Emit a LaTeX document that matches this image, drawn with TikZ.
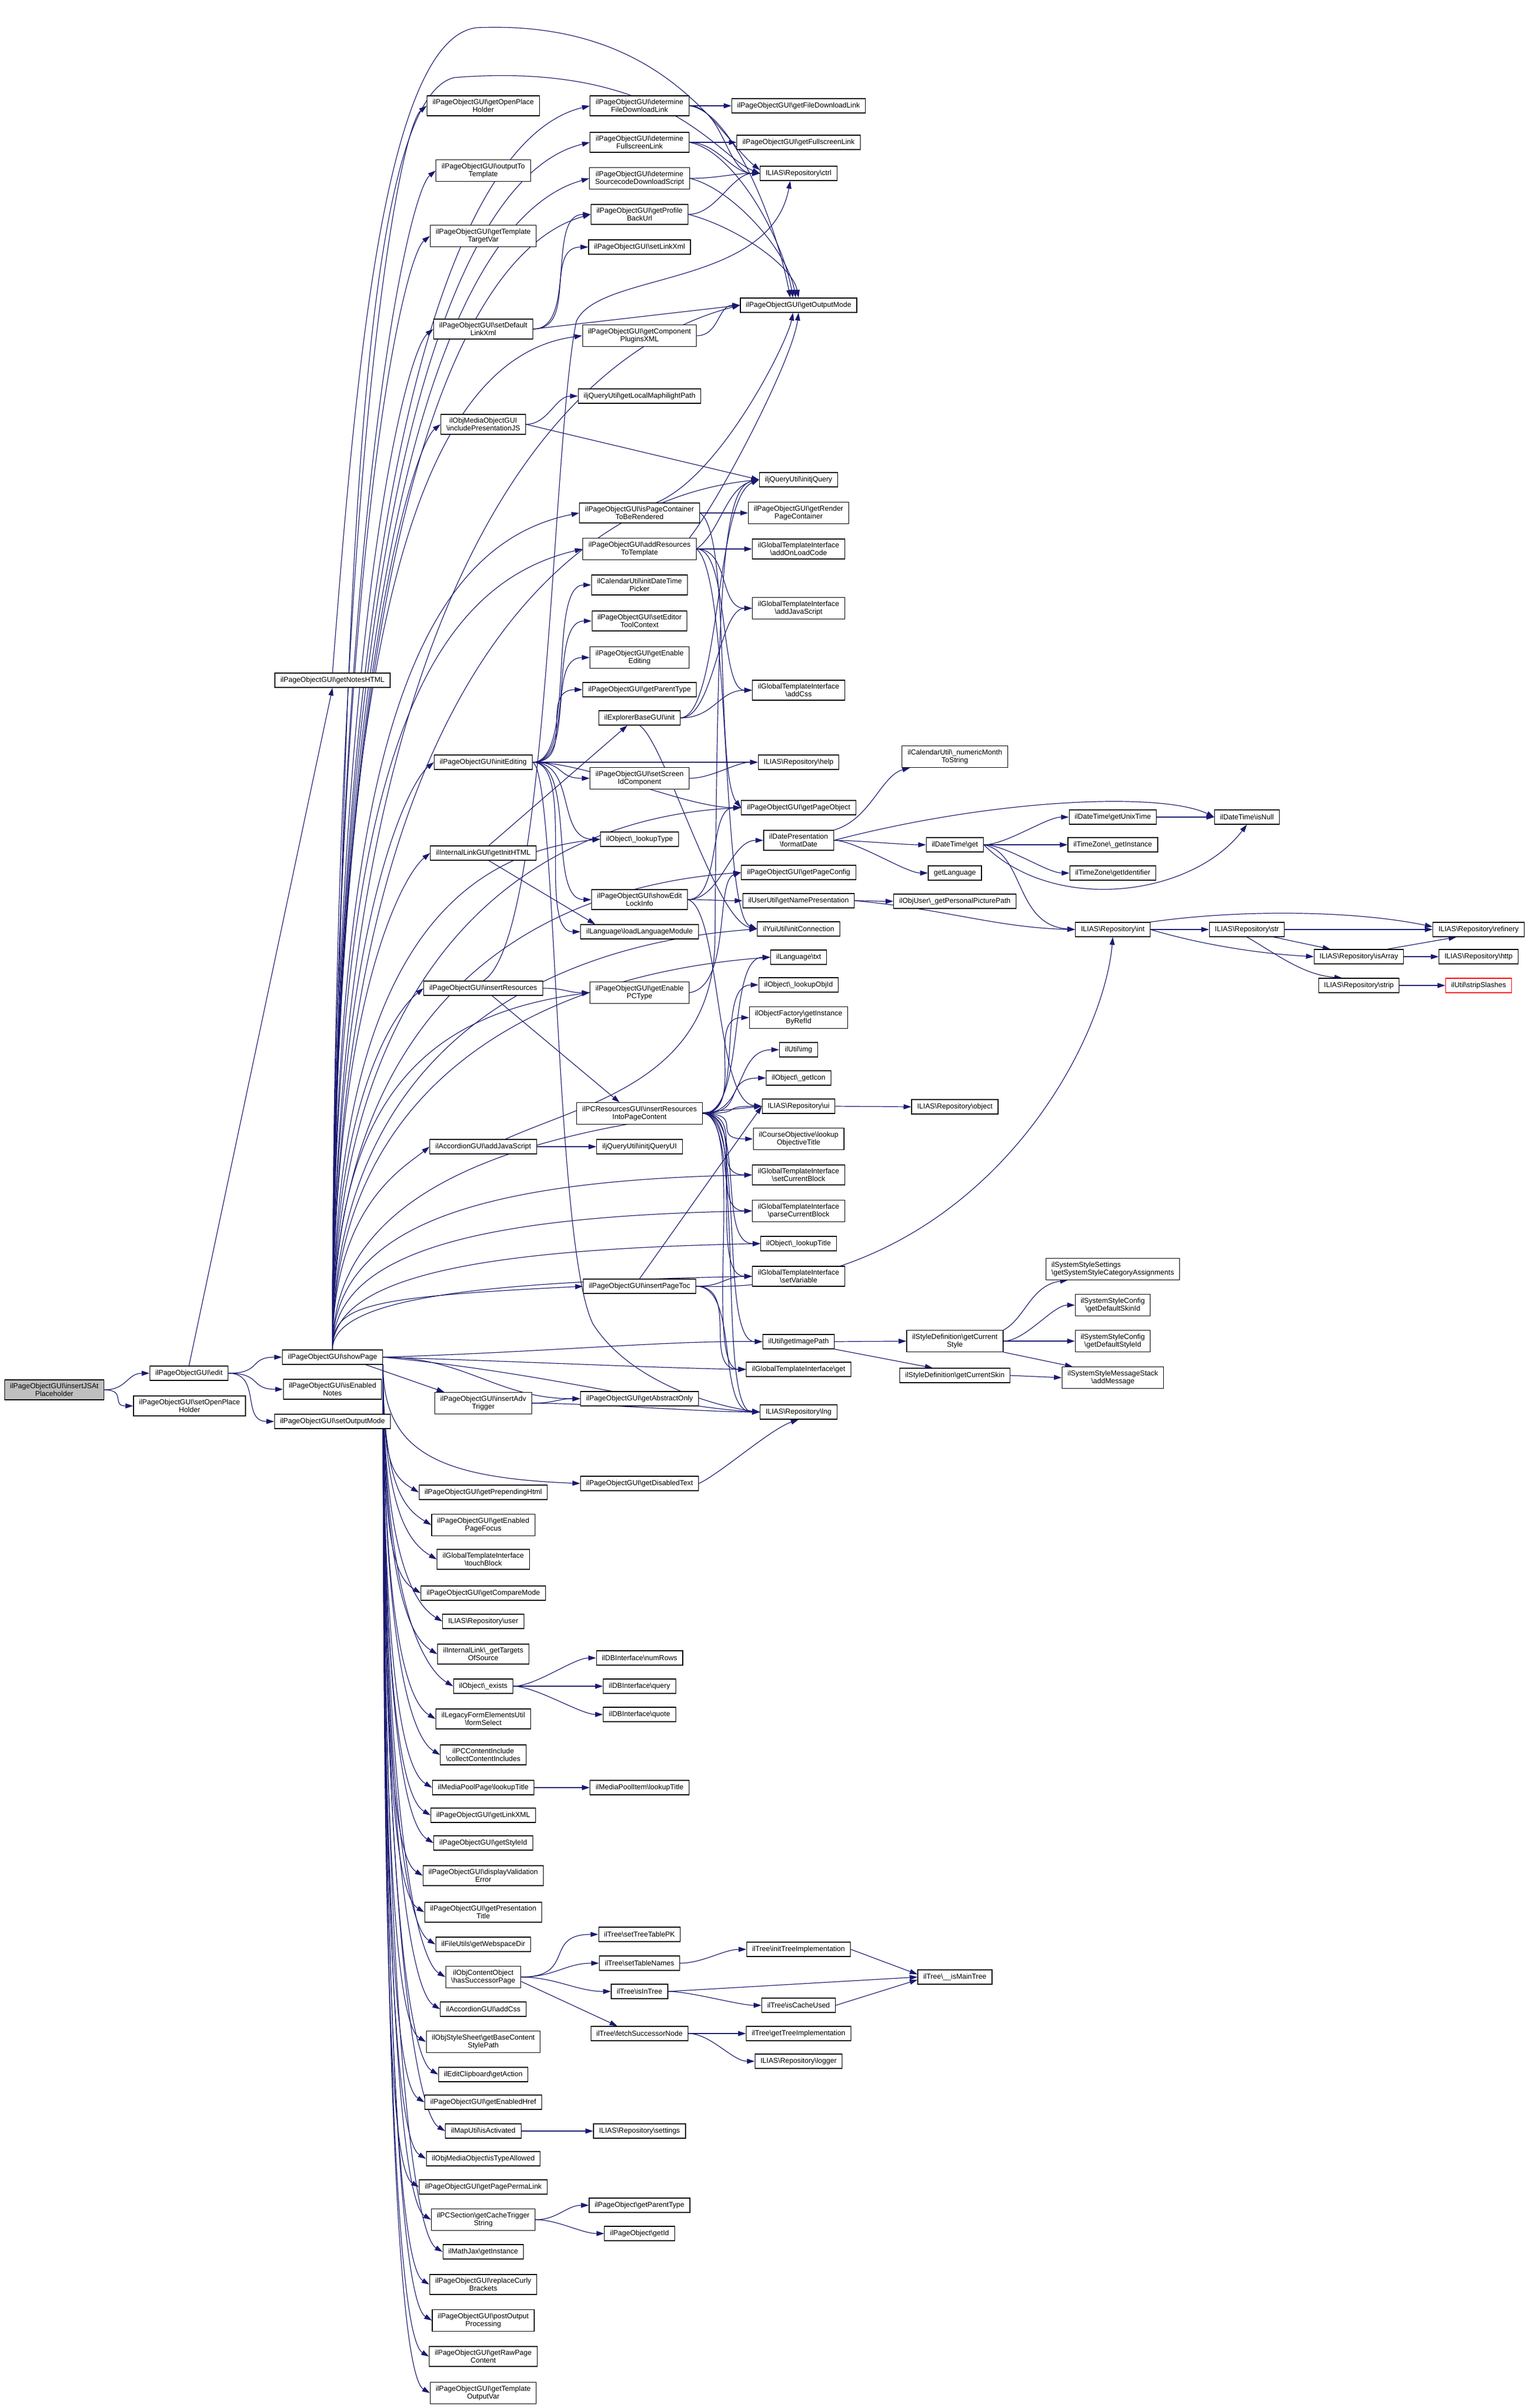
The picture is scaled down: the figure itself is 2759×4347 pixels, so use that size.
\documentclass[tikz,border=0pt]{standalone}
\usepackage{fontspec}
\setmainfont{Liberation Sans}
\usetikzlibrary{arrows.meta,calc,backgrounds}
\definecolor{edgeblue}{HTML}{191970}
\definecolor{rootgray}{HTML}{BFBFBF}
\newcommand{\bks}{\textbackslash}
\tikzset{
  fnbox/.style={draw=black, line width=1.2pt, fill=white, align=center,
    font=\fontsize{13}{14.5}\selectfont, inner xsep=10pt, inner ysep=6pt, minimum height=26pt},
  rootbox/.style={fnbox, fill=rootgray},
  callarrow/.style={draw=edgeblue, line width=1.2pt, -{Triangle[length=14pt,width=9pt]}},
}
\newcommand{\fwd}[3][50]{\draw[callarrow] (#2.east) .. controls +(#1,0) and +(-#1,0) .. (#3.west);}
\newcommand{\spup}[3]{\draw[callarrow] (sp.north) .. controls ($(sp.north)!0.7!(sp.north |- #1.west)$) and ($(#1.west)+(-#2,#3)$) .. (#1.west);}
\newcommand{\spdn}[3]{\draw[callarrow] (sp.south east) .. controls ($(sp.south east)!0.75!(sp.south east |- #1.west)$) and ($(#1.west)+(-#2,#3)$) .. (#1.west);}

\begin{document}
\begin{tikzpicture}[x=1pt,y=-1pt]
\useasboundingbox (0,0) rectangle (2759,4347);

% callers
\node[rootbox] (ins) at (98,2509) {ilPageObjectGUI\bks insertJSAt\\Placeholder};
\node[fnbox] (edit) at (341,2479) {ilPageObjectGUI\bks edit};
\node[fnbox] (soph) at (342,2538) {ilPageObjectGUI\bks setOpenPlace\\Holder};
\node[fnbox] (notes) at (600,1228) {ilPageObjectGUI\bks getNotesHTML};
\node[fnbox] (sp) at (600,2450) {ilPageObjectGUI\bks showPage};
\node[fnbox] (ien) at (600,2508) {ilPageObjectGUI\bks isEnabled\\Notes};
\node[fnbox] (som) at (600,2566) {ilPageObjectGUI\bks setOutputMode};

% column 4
\node[fnbox] (gop) at (872,191) {ilPageObjectGUI\bks getOpenPlace\\Holder};
\node[fnbox] (ott) at (872,308) {ilPageObjectGUI\bks outputTo\\Template};
\node[fnbox] (gttv) at (872,426) {ilPageObjectGUI\bks getTemplate\\TargetVar};
\node[fnbox] (sdlx) at (872,594) {ilPageObjectGUI\bks setDefault\\LinkXml};
\node[fnbox] (ipjs) at (872,766) {ilObjMediaObjectGUI\\\bks includePresentationJS};
\node[fnbox] (ie) at (872,1376) {ilPageObjectGUI\bks initEditing};
\node[fnbox] (gih) at (872,1540) {ilInternalLinkGUI\bks getInitHTML};
\node[fnbox] (irs) at (872,1784) {ilPageObjectGUI\bks insertResources};
\node[fnbox] (acjs) at (872,2070) {ilAccordionGUI\bks addJavaScript};
\node[fnbox] (iat) at (872,2533) {ilPageObjectGUI\bks insertAdv\\Trigger};
\node[fnbox] (gph) at (872,2694) {ilPageObjectGUI\bks getPrependingHtml};
\node[fnbox] (gepf) at (872,2753) {ilPageObjectGUI\bks getEnabled\\PageFocus};
\node[fnbox] (tb) at (872,2815) {ilGlobalTemplateInterface\\\bks touchBlock};
\node[fnbox] (gcm) at (872,2876) {ilPageObjectGUI\bks getCompareMode};
\node[fnbox] (user) at (872,2927) {ILIAS\bks Repository\bks user};
\node[fnbox] (gtos) at (872,2986) {ilInternalLink\bks\_getTargets\\OfSource};
\node[fnbox] (exists) at (872,3044) {ilObject\bks\_exists};
\node[fnbox] (fsel) at (872,3103) {ilLegacyFormElementsUtil\\\bks formSelect};
\node[fnbox] (cci) at (872,3168) {ilPCContentInclude\\\bks collectContentIncludes};
\node[fnbox] (mppl) at (872,3227) {ilMediaPoolPage\bks lookupTitle};
\node[fnbox] (glx) at (872,3277) {ilPageObjectGUI\bks getLinkXML};
\node[fnbox] (gsi) at (872,3327) {ilPageObjectGUI\bks getStyleId};
\node[fnbox] (dve) at (872,3386) {ilPageObjectGUI\bks displayValidation\\Error};
\node[fnbox] (gpt) at (872,3452) {ilPageObjectGUI\bks getPresentation\\Title};
\node[fnbox] (gwd) at (872,3510) {ilFileUtils\bks getWebspaceDir};
\node[fnbox] (hsp) at (872,3569) {ilObjContentObject\\\bks hasSuccessorPage};
\node[fnbox] (accss) at (872,3627) {ilAccordionGUI\bks addCss};
\node[fnbox] (gbcs) at (872,3686) {ilObjStyleSheet\bks getBaseContent\\StylePath};
\node[fnbox] (gact) at (872,3745) {ilEditClipboard\bks getAction};
\node[fnbox] (geh) at (872,3795) {ilPageObjectGUI\bks getEnabledHref};
\node[fnbox] (mua) at (872,3847) {ilMapUtil\bks isActivated};
\node[fnbox] (ita) at (872,3897) {ilObjMediaObject\bks isTypeAllowed};
\node[fnbox] (gppl) at (872,3948) {ilPageObjectGUI\bks getPagePermaLink};
\node[fnbox] (gcts) at (872,4007) {ilPCSection\bks getCacheTrigger\\String};
\node[fnbox] (mjx) at (872,4065) {ilMathJax\bks getInstance};
\node[fnbox] (rcb) at (872,4124) {ilPageObjectGUI\bks replaceCurly\\Brackets};
\node[fnbox] (pop) at (872,4189) {ilPageObjectGUI\bks postOutput\\Processing};
\node[fnbox] (grpc2) at (872,4254) {ilPageObjectGUI\bks getRawPage\\Content};
\node[fnbox] (gtov) at (872,4320) {ilPageObjectGUI\bks getTemplate\\OutputVar};

% column 5
\node[fnbox] (dfdl) at (1154,191) {ilPageObjectGUI\bks determine\\FileDownloadLink};
\node[fnbox] (dfsl) at (1154,257) {ilPageObjectGUI\bks determine\\FullscreenLink};
\node[fnbox] (dsds) at (1154,322) {ilPageObjectGUI\bks determine\\SourcecodeDownloadScript};
\node[fnbox] (gpbu) at (1154,387) {ilPageObjectGUI\bks getProfile\\BackUrl};
\node[fnbox] (slx) at (1154,446) {ilPageObjectGUI\bks setLinkXml};
\node[fnbox] (gcpx) at (1154,606) {ilPageObjectGUI\bks getComponent\\PluginsXML};
\node[fnbox] (lmp) at (1154,715) {iljQueryUtil\bks getLocalMaphilightPath};
\node[fnbox] (ipcr) at (1154,926) {ilPageObjectGUI\bks isPageContainer\\ToBeRendered};
\node[fnbox] (art) at (1154,991) {ilPageObjectGUI\bks addResources\\ToTemplate};
\node[fnbox] (idtp) at (1154,1056) {ilCalendarUtil\bks initDateTime\\Picker};
\node[fnbox] (setc) at (1154,1121) {ilPageObjectGUI\bks setEditor\\ToolContext};
\node[fnbox] (gee) at (1154,1187) {ilPageObjectGUI\bks getEnable\\Editing};
\node[fnbox] (gpty) at (1154,1245) {ilPageObjectGUI\bks getParentType};
\node[fnbox] (ebi) at (1154,1296) {ilExplorerBaseGUI\bks init};
\node[fnbox] (ssic) at (1154,1405) {ilPageObjectGUI\bks setScreen\\IdComponent};
\node[fnbox] (lty) at (1154,1515) {ilObject\bks\_lookupType};
\node[fnbox] (seli) at (1154,1624) {ilPageObjectGUI\bks showEdit\\LockInfo};
\node[fnbox] (llm) at (1154,1682) {ilLanguage\bks loadLanguageModule};
\node[fnbox] (gepc) at (1154,1792) {ilPageObjectGUI\bks getEnable\\PCType};
\node[fnbox] (irpc) at (1154,2010) {ilPCResourcesGUI\bks insertResources\\IntoPageContent};
\node[fnbox] (ijqui) at (1154,2070) {iljQueryUtil\bks initjQueryUI};
\node[fnbox] (ipt) at (1154,2322) {ilPageObjectGUI\bks insertPageToc};
\node[fnbox] (gao) at (1154,2525) {ilPageObjectGUI\bks getAbstractOnly};
\node[fnbox] (gdt) at (1154,2678) {ilPageObjectGUI\bks getDisabledText};
\node[fnbox] (numrows) at (1154,2993) {ilDBInterface\bks numRows};
\node[fnbox] (query) at (1154,3044) {ilDBInterface\bks query};
\node[fnbox] (quote) at (1154,3095) {ilDBInterface\bks quote};
\node[fnbox] (mpil) at (1154,3227) {ilMediaPoolItem\bks lookupTitle};
\node[fnbox] (sttpk) at (1154,3492) {ilTree\bks setTreeTablePK};
\node[fnbox] (stn) at (1154,3544) {ilTree\bks setTableNames};
\node[fnbox] (iit) at (1154,3595) {ilTree\bks isInTree};
\node[fnbox] (fsn) at (1154,3671) {ilTree\bks fetchSuccessorNode};
\node[fnbox] (sett) at (1154,3847) {ILIAS\bks Repository\bks settings};
\node[fnbox] (popt) at (1154,3981) {ilPageObject\bks getParentType};
\node[fnbox] (pogid) at (1154,4032) {ilPageObject\bks getId};

% column 6
\node[fnbox] (gfdl) at (1441,191) {ilPageObjectGUI\bks getFileDownloadLink};
\node[fnbox] (gfsl) at (1441,257) {ilPageObjectGUI\bks getFullscreenLink};
\node[fnbox] (ctrl) at (1441,313) {ILIAS\bks Repository\bks ctrl};
\node[fnbox] (gom) at (1441,551) {ilPageObjectGUI\bks getOutputMode};
\node[fnbox] (ijq) at (1441,866) {iljQueryUtil\bks initjQuery};
\node[fnbox] (grpc) at (1441,926) {ilPageObjectGUI\bks getRender\\PageContainer};
\node[fnbox] (aolc) at (1441,991) {ilGlobalTemplateInterface\\\bks addOnLoadCode};
\node[fnbox] (ajs) at (1441,1098) {ilGlobalTemplateInterface\\\bks addJavaScript};
\node[fnbox] (acss) at (1441,1246) {ilGlobalTemplateInterface\\\bks addCss};
\node[fnbox] (help) at (1441,1376) {ILIAS\bks Repository\bks help};
\node[fnbox] (gpo) at (1441,1458) {ilPageObjectGUI\bks getPageObject};
\node[fnbox] (fd) at (1441,1517) {ilDatePresentation\\\bks formatDate};
\node[fnbox] (gpcf) at (1441,1575) {ilPageObjectGUI\bks getPageConfig};
\node[fnbox] (gnp) at (1441,1626) {ilUserUtil\bks getNamePresentation};
\node[fnbox] (yui) at (1441,1677) {ilYuiUtil\bks initConnection};
\node[fnbox] (txt) at (1441,1728) {ilLanguage\bks txt};
\node[fnbox] (loid) at (1441,1778) {ilObject\bks\_lookupObjId};
\node[fnbox] (gibr) at (1441,1837) {ilObjectFactory\bks getInstance\\ByRefId};
\node[fnbox] (img) at (1441,1895) {ilUtil\bks img};
\node[fnbox] (gico) at (1441,1946) {ilObject\bks\_getIcon};
\node[fnbox] (ui) at (1441,1997) {ILIAS\bks Repository\bks ui};
\node[fnbox] (lot) at (1441,2056) {ilCourseObjective\bks lookup\\ObjectiveTitle};
\node[fnbox] (scb) at (1441,2121) {ilGlobalTemplateInterface\\\bks setCurrentBlock};
\node[fnbox] (pcb) at (1441,2186) {ilGlobalTemplateInterface\\\bks parseCurrentBlock};
\node[fnbox] (ltit) at (1441,2245) {ilObject\bks\_lookupTitle};
\node[fnbox] (svar) at (1441,2304) {ilGlobalTemplateInterface\\\bks setVariable};
\node[fnbox] (gip) at (1441,2422) {ilUtil\bks getImagePath};
\node[fnbox] (tget) at (1441,2472) {ilGlobalTemplateInterface\bks get};
\node[fnbox] (lng) at (1441,2549) {ILIAS\bks Repository\bks lng};
\node[fnbox] (iti) at (1441,3519) {ilTree\bks initTreeImplementation};
\node[fnbox] (icu) at (1441,3620) {ilTree\bks isCacheUsed};
\node[fnbox] (gti) at (1441,3671) {ilTree\bks getTreeImplementation};
\node[fnbox] (logger) at (1441,3721) {ILIAS\bks Repository\bks logger};

% column 7 and further
\node[fnbox] (nmts) at (1723,1366) {ilCalendarUtil\bks\_numericMonth\\ToString};
\node[fnbox] (dtg) at (1723,1525) {ilDateTime\bks get};
\node[fnbox] (glang) at (1723,1576) {getLanguage};
\node[fnbox] (gppp) at (1723,1627) {ilObjUser\bks\_getPersonalPicturePath};
\node[fnbox] (obj) at (1723,1998) {ILIAS\bks Repository\bks object};
\node[fnbox] (gcs) at (1723,2421) {ilStyleDefinition\bks getCurrent\\Style};
\node[fnbox] (gcsk) at (1723,2483) {ilStyleDefinition\bks getCurrentSkin};
\node[fnbox] (imt) at (1723,3569) {ilTree\bks\_\_isMainTree};

\node[fnbox] (gut) at (2008,1475) {ilDateTime\bks getUnixTime};
\node[fnbox] (tzi) at (2008,1525) {ilTimeZone\bks\_getInstance};
\node[fnbox] (tzid) at (2008,1576) {ilTimeZone\bks getIdentifier};
\node[fnbox] (int) at (2008,1678) {ILIAS\bks Repository\bks int};
\node[fnbox, align=left] (ssca) at (2008,2291) {ilSystemStyleSettings\\\bks getSystemStyleCategoryAssignments};
\node[fnbox] (dsk) at (2008,2356) {ilSystemStyleConfig\\\bks getDefaultSkinId};
\node[fnbox] (dst) at (2008,2421) {ilSystemStyleConfig\\\bks getDefaultStyleId};
\node[fnbox] (amsg) at (2008,2487) {ilSystemStyleMessageStack\\\bks addMessage};

\node[fnbox] (isnull) at (2250,1475) {ilDateTime\bks isNull};
\node[fnbox] (str) at (2250,1678) {ILIAS\bks Repository\bks str};
\node[fnbox] (isarr) at (2452,1727) {ILIAS\bks Repository\bks isArray};
\node[fnbox] (strip) at (2452,1779) {ILIAS\bks Repository\bks strip};
\node[fnbox] (refi) at (2668,1678) {ILIAS\bks Repository\bks refinery};
\node[fnbox] (http) at (2668,1727) {ILIAS\bks Repository\bks http};
\node[fnbox, draw=red] (strsl) at (2668,1779) {ilUtil\bks stripSlashes};

\begin{scope}[on background layer]
\fill[white] (0,0) rectangle (2759,4347);

% root calls
\fwd[40]{ins}{edit}
\fwd[40]{ins}{soph}
\draw[callarrow] (edit.north) -- (notes.south);
\fwd[60]{edit}{sp}
\fwd[60]{edit}{ien}
\fwd[60]{edit}{som}
\draw[callarrow] (notes.north) .. controls (640,700) and (690,70) .. (860,50) .. controls (1200,35) and (1300,250) .. ([yshift=6pt]ctrl.west);
\draw[callarrow] (sp.north) .. controls (620,1200) and (640,180) .. (820,140) .. controls (1200,110) and (1290,280) .. (ctrl.west);

% showPage, upwards
\spup{gop}{50}{40}
\spup{ott}{50}{40}
\spup{gttv}{50}{40}
\spup{sdlx}{50}{40}
\spup{ipjs}{50}{40}
\spup{ie}{50}{40}
\spup{gih}{50}{40}
\spup{irs}{50}{40}
\spup{acjs}{50}{40}
\spup{dfdl}{250}{60}
\spup{dfsl}{250}{60}
\spup{dsds}{250}{70}
\spup{gpbu}{250}{70}
\spup{gcpx}{300}{40}
\spup{gom}{350}{90}
\spup{ijq}{400}{40}
\spup{ipcr}{300}{60}
\spup{art}{300}{70}
\spup{lty}{300}{30}
\spup{gpo}{400}{20}
\spup{gpcf}{400}{30}
\spup{yui}{400}{30}
\spup{txt}{400}{30}
\spup{gepc}{300}{40}
\spup{ui}{400}{40}
\spup{scb}{500}{10}
\spup{pcb}{500}{10}
\spup{ltit}{500}{10}
\spup{svar}{500}{10}
\spup{ipt}{400}{20}

% showPage, sideways
\draw[callarrow] (sp.east) .. controls (1000,2440) and (1200,2420) .. (gip.west);
\draw[callarrow] (sp.east) .. controls (1000,2460) and (1200,2470) .. (tget.west);
\draw[callarrow] (sp.east) .. controls (1000,2480) and (1200,2540) .. (lng.west);
\fwd[150]{sp}{gao}
\draw[callarrow] ([xshift=60pt]sp.south) -- ([xshift=-70pt]iat.north);

% showPage, downwards
\spdn{gdt}{250}{-10}
\spdn{gph}{50}{-30}
\spdn{gepf}{50}{-30}
\spdn{tb}{50}{-30}
\spdn{gcm}{50}{-30}
\spdn{user}{50}{-30}
\spdn{gtos}{50}{-30}
\spdn{exists}{50}{-30}
\spdn{fsel}{50}{-30}
\spdn{cci}{50}{-30}
\spdn{mppl}{50}{-30}
\spdn{glx}{50}{-30}
\spdn{gsi}{50}{-30}
\spdn{dve}{50}{-30}
\spdn{gpt}{50}{-30}
\spdn{gwd}{50}{-30}
\spdn{hsp}{50}{-30}
\spdn{accss}{50}{-30}
\spdn{gbcs}{50}{-30}
\spdn{gact}{50}{-30}
\spdn{geh}{50}{-30}
\spdn{mua}{50}{-30}
\spdn{ita}{50}{-30}
\spdn{gppl}{50}{-30}
\spdn{gcts}{50}{-30}
\spdn{mjx}{50}{-30}
\spdn{rcb}{50}{-30}
\spdn{pop}{50}{-30}
\spdn{grpc2}{50}{-30}
\spdn{gtov}{50}{-30}

% column 4 calls
\fwd[80]{sdlx}{gpbu}
\fwd[80]{sdlx}{slx}
\draw[callarrow] (sdlx.east) -- (gom.west);
\fwd[40]{ipjs}{lmp}
\draw[callarrow] (ipjs.east) -- (ijq.west);
\fwd[80]{ie}{idtp}
\fwd[80]{ie}{setc}
\fwd[80]{ie}{gee}
\fwd[80]{ie}{gpty}
\fwd[60]{ie}{ssic}
\draw[callarrow] (ie.east) -- (help.west);
\fwd[100]{ie}{gpo}
\fwd[80]{ie}{lty}
\fwd[80]{ie}{seli}
\fwd[80]{ie}{llm}
\draw[callarrow] (ie.east) .. controls (1005,1390) and (1000,2250) .. (1070,2390) .. controls (1140,2500) and (1300,2540) .. (lng.west);
\draw[callarrow] ([xshift=10pt]gih.north) -- ([xshift=-22pt]ebi.south);
\draw[callarrow] ([xshift=10pt]gih.south) -- ([xshift=-80pt]llm.north);
\fwd[40]{irs}{gepc}
\draw[callarrow] ([xshift=16pt]irs.south) -- ([xshift=-36pt]irpc.north);
\draw[callarrow] (irs.north) .. controls (990,1700) and (995,800) .. (1040,580) .. controls (1080,490) and (1390,520) .. ([xshift=-15pt]ctrl.south);
\fwd[40]{acjs}{ijqui}
\draw[callarrow] ([xshift=40pt]acjs.north) .. controls (1060,1990) and (1285,1950) .. (1290,1700) .. controls (1295,1100) and (1300,880) .. (ijq.west);
\fwd[40]{iat}{gao}
\fwd[100]{iat}{lng}
\fwd[40]{exists}{numrows}
\fwd[40]{exists}{query}
\fwd[40]{exists}{quote}
\draw[callarrow] (mppl.east) -- (mpil.west);
\fwd[100]{hsp}{sttpk}
\fwd[60]{hsp}{stn}
\fwd[60]{hsp}{iit}
\draw[callarrow] ([yshift=-8pt]hsp.east) -- ([xshift=-40pt]fsn.north);
\draw[callarrow] (mua.east) -- (sett.west);
\fwd[40]{gcts}{popt}
\fwd[40]{gcts}{pogid}

% column 5 calls
\fwd[40]{dfdl}{gfdl}
\fwd[60]{dfdl}{ctrl}
\draw[callarrow] (dfdl.east) .. controls (1320,200) and (1400,400) .. ([xshift=-15pt]gom.north);
\fwd[40]{dfsl}{gfsl}
\fwd[50]{dfsl}{ctrl}
\draw[callarrow] (dfsl.east) .. controls (1320,270) and (1410,420) .. ([xshift=-10pt]gom.north);
\fwd[50]{dsds}{ctrl}
\draw[callarrow] (dsds.east) .. controls (1320,340) and (1420,450) .. ([xshift=-5pt]gom.north);
\fwd[50]{gpbu}{ctrl}
\draw[callarrow] (gpbu.east) .. controls (1330,410) and (1430,480) .. (gom.north);
\fwd[40]{gcpx}{gom}
\fwd[40]{ipcr}{grpc}
\draw[callarrow] ([xshift=30pt]ipcr.north) .. controls (1300,860) and (1420,620) .. ([xshift=-10pt]gom.south);
\draw[callarrow] (ipcr.east) .. controls (1320,960) and (1290,1400) .. (gpo.west);
\fwd[40]{art}{aolc}
\fwd[60]{art}{ajs}
\fwd[60]{art}{acss}
\draw[callarrow] (art.east) .. controls (1300,960) and (1310,880) .. (ijq.west);
\draw[callarrow] ([xshift=90pt]art.north) .. controls (1300,900) and (1430,650) .. (gom.south);
\draw[callarrow] (art.east) .. controls (1320,1040) and (1300,1650) .. (yui.west);
\draw[callarrow] (ebi.east) .. controls (1300,1290) and (1290,900) .. (ijq.west);
\fwd[60]{ebi}{ajs}
\fwd[60]{ebi}{acss}
\draw[callarrow] (ebi.south) .. controls (1200,1340) and (1290,1660) .. (yui.west);
\fwd[40]{ssic}{help}
\fwd[40]{seli}{gnp}
\fwd[60]{seli}{fd}
\fwd[60]{seli}{gpo}
\draw[callarrow] (seli.east) .. controls (1300,1640) and (1290,1990) .. (ui.west);
\draw[callarrow] (gepc.east) .. controls (1320,1780) and (1290,1590) .. (gpcf.west);
\fwd[80]{irpc}{txt}
\fwd[80]{irpc}{loid}
\fwd[80]{irpc}{gibr}
\fwd[80]{irpc}{img}
\fwd[80]{irpc}{gico}
\fwd[80]{irpc}{ui}
\fwd[80]{irpc}{lot}
\fwd[80]{irpc}{scb}
\fwd[80]{irpc}{pcb}
\fwd[80]{irpc}{ltit}
\fwd[80]{irpc}{svar}
\fwd[80]{irpc}{gip}
\fwd[80]{irpc}{tget}
\fwd[80]{irpc}{lng}
\draw[callarrow] (ipt.north) -- (ui.west);
\fwd[50]{ipt}{svar}
\fwd[80]{ipt}{tget}
\fwd[80]{ipt}{lng}
\draw[callarrow] (ipt.east) .. controls (1750,2340) and (1990,1900) .. (int.south);
\draw[callarrow] (gdt.east) .. controls (1300,2660) and (1390,2580) .. (lng.south);
\fwd[40]{stn}{iti}
\draw[callarrow] (iit.east) -- (imt.west);
\fwd[40]{iit}{icu}
\fwd[40]{fsn}{gti}
\fwd[40]{fsn}{logger}

% column 6 and further
\draw[callarrow] (fd.north east) .. controls (1570,1480) and (1590,1400) .. ([xshift=15pt]nmts.south west);
\fwd[40]{fd}{dtg}
\fwd[40]{fd}{glang}
\draw[callarrow] (fd.east) .. controls (1800,1440) and (2100,1430) .. (isnull.west);
\fwd[40]{gnp}{gppp}
\draw[callarrow] (gnp.east) .. controls (1700,1640) and (1800,1675) .. (int.west);
\draw[callarrow] (ui.east) -- (obj.west);
\draw[callarrow] (gip.east) -- (gcs.west);
\draw[callarrow] (gip.south east) -- ([xshift=-40pt]gcsk.north);
\draw[callarrow] (iti.east) -- ([yshift=5pt]imt.west);
\draw[callarrow] (icu.east) -- ([yshift=-5pt]imt.west);
\fwd[40]{dtg}{gut}
\fwd[40]{dtg}{tzi}
\fwd[40]{dtg}{tzid}
\draw[callarrow] (dtg.east) .. controls (1850,1540) and (1830,1670) .. (int.west);
\draw[callarrow] (dtg.east) .. controls (1900,1650) and (2150,1620) .. (isnull.south);
\draw[callarrow] (gcs.north east) .. controls (1850,2380) and (1860,2320) .. ([xshift=40pt]ssca.south west);
\fwd[40]{gcs}{dsk}
\fwd[40]{gcs}{dst}
\draw[callarrow] (gcs.south east) -- ([xshift=20pt]amsg.north west);
\draw[callarrow] (gcsk.east) -- (amsg.west);
\draw[callarrow] (gut.east) -- (isnull.west);
\draw[callarrow] (int.east) -- (str.west);
\draw[callarrow] (int.east) .. controls (2150,1700) and (2250,1720) .. (isarr.west);
\draw[callarrow] (int.north east) .. controls (2250,1640) and (2450,1645) .. ([yshift=5pt]refi.west);
\draw[callarrow] (str.east) -- (refi.west);
\draw[callarrow] ([xshift=-20pt]str.south east) -- ([xshift=30pt]isarr.north west);
\draw[callarrow] (str.south) .. controls (2300,1720) and (2350,1760) .. ([xshift=-30pt]strip.north);
\draw[callarrow] (isarr.east) -- (http.west);
\draw[callarrow] ([xshift=-30pt]isarr.north east) -- ([xshift=-40pt]refi.south);
\draw[callarrow] (strip.east) -- (strsl.west);
\end{scope}
\end{tikzpicture}
\end{document}
